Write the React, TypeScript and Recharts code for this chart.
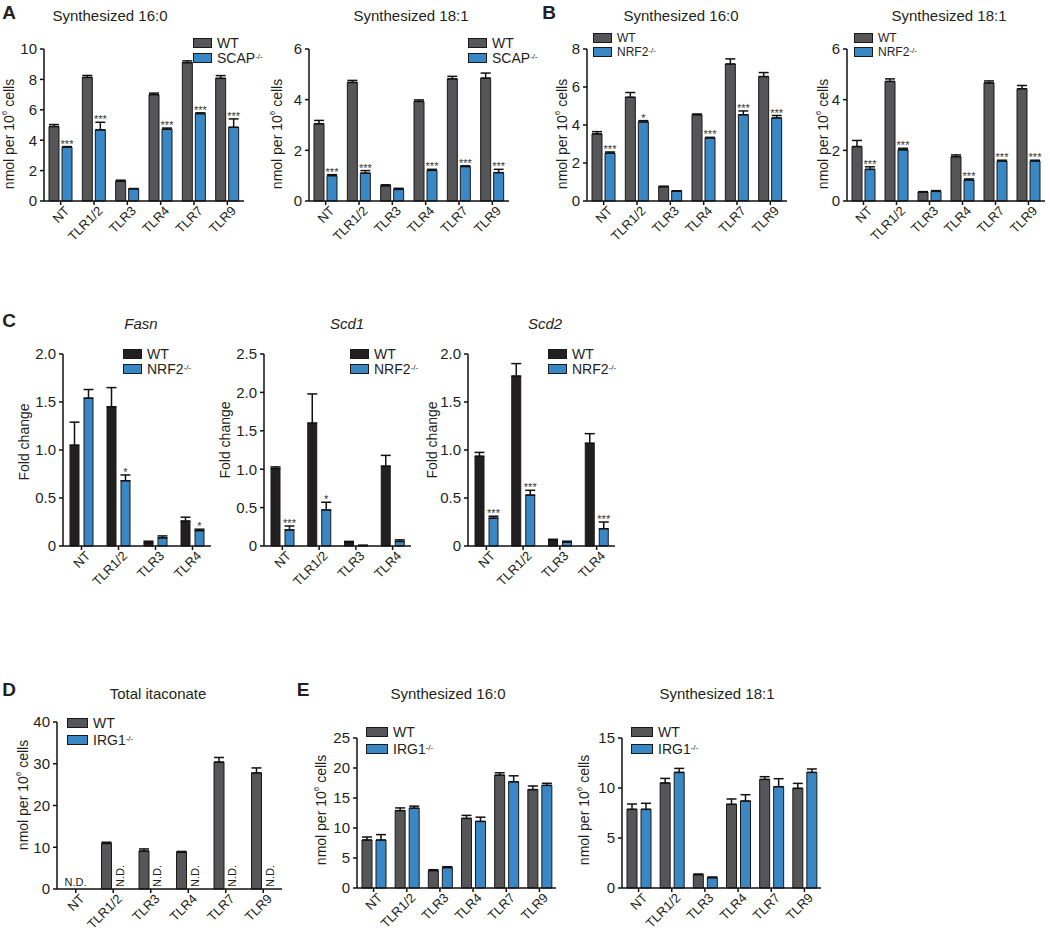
import React from "react";
import { BarChart, Bar, XAxis, YAxis, ErrorBar, LabelList } from "recharts";

const tlr6 = ["NT", "TLR1/2", "TLR3", "TLR4", "TLR7", "TLR9"];
const tlr4 = ["NT", "TLR1/2", "TLR3", "TLR4"];

// A - WT vs SCAP-/-
const a16Wt = [4.9, 8.13, 1.3, 7.0, 9.1, 8.07];
const a16WtErr = [0.13, 0.13, 0.07, 0.1, 0.12, 0.18];
const a16Scap = [3.54, 4.68, 0.8, 4.72, 5.75, 4.85];
const a16ScapErr = [0.04, 0.5, 0.02, 0.08, 0.05, 0.55];
const a16Marks = ["***", "***", "", "***", "***", "***"];

const a18Wt = [3.05, 4.68, 0.6, 3.93, 4.82, 4.85];
const a18WtErr = [0.13, 0.08, 0.04, 0.06, 0.1, 0.2];
const a18Scap = [1.0, 1.1, 0.46, 1.21, 1.36, 1.12];
const a18ScapErr = [0.04, 0.1, 0.04, 0.04, 0.03, 0.13];
const a18Marks = ["***", "***", "", "***", "***", "***"];

// B - WT vs NRF2-/-
const b16Wt = [3.53, 5.46, 0.75, 4.54, 7.21, 6.55];
const b16WtErr = [0.12, 0.25, 0.03, 0.04, 0.27, 0.21];
const b16Nrf2 = [2.52, 4.16, 0.52, 3.32, 4.54, 4.37];
const b16Nrf2Err = [0.06, 0.07, 0.02, 0.03, 0.2, 0.13];
const b16Marks = ["***", "*", "", "***", "***", "***"];

const b18Wt = [2.15, 4.72, 0.35, 1.75, 4.66, 4.43];
const b18WtErr = [0.24, 0.1, 0.02, 0.07, 0.08, 0.13];
const b18Nrf2 = [1.25, 2.02, 0.38, 0.83, 1.58, 1.58];
const b18Nrf2Err = [0.1, 0.06, 0.03, 0.04, 0.03, 0.03];
const b18Marks = ["***", "***", "", "***", "***", "***"];

// C - fold change
const fasnWt = [1.05, 1.45, 0.035, 0.26];
const fasnWtErr = [0.24, 0.2, 0.015, 0.04];
const fasnNrf2 = [1.54, 0.68, 0.085, 0.16];
const fasnNrf2Err = [0.09, 0.06, 0.02, 0.015];
const fasnMarks = ["", "*", "", "*"];

const scd1Wt = [1.01, 1.6, 0.05, 1.04];
const scd1WtErr = [0.02, 0.38, 0.01, 0.14];
const scd1Nrf2 = [0.21, 0.47, 0.008, 0.06];
const scd1Nrf2Err = [0.05, 0.1, 0, 0.02];
const scd1Marks = ["***", "*", "", ""];

const scd2Wt = [0.935, 1.77, 0.06, 1.07];
const scd2WtErr = [0.04, 0.13, 0.01, 0.1];
const scd2Nrf2 = [0.29, 0.53, 0.04, 0.18];
const scd2Nrf2Err = [0.02, 0.05, 0.01, 0.07];
const scd2Marks = ["***", "***", "", "***"];

// D - itaconate
const itaWt = [0, 10.9, 9.1, 8.8, 30.4, 27.8];
const itaWtErr = [0, 0.3, 0.5, 0.2, 1.1, 1.2];
const itaIrg1 = [0, 0, 0, 0, 0, 0];
const itaIrg1Err = [0, 0, 0, 0, 0, 0];
const itaMarks = ["N.D.", "N.D.", "N.D.", "N.D.", "N.D.", "N.D."];

// E - WT vs IRG1-/-
const e16Wt = [8.0, 12.9, 2.9, 11.6, 18.8, 16.4];
const e16WtErr = [0.5, 0.45, 0.15, 0.5, 0.4, 0.6];
const e16Irg1 = [8.0, 13.3, 3.4, 11.1, 17.7, 17.1];
const e16Irg1Err = [0.9, 0.35, 0.15, 0.7, 1.0, 0.35];

const e18Wt = [7.87, 10.5, 1.33, 8.37, 10.86, 9.97];
const e18WtErr = [0.53, 0.46, 0.07, 0.53, 0.27, 0.49];
const e18Irg1 = [7.87, 11.56, 1.03, 8.7, 10.13, 11.56];
const e18Irg1Err = [0.6, 0.4, 0.07, 0.63, 0.8, 0.34];
const noMarks = ["", "", "", "", "", ""];

const GRAY = "#565658";
const BLUE = "#3a87c6";
const BLACK = "#221f20";
const INK = "#231f20";

function rows(cats: string[], wt: number[], wtErr: number[], ko: number[], koErr: number[], marks: string[]) {
  return cats.map((c, i) => ({
    cat: c,
    wt: wt[i],
    ko: ko[i],
    wtErr: [0, wtErr[i]],
    koErr: [0, koErr[i]],
    mark: marks[i],
  }));
}

function XTick(props: any) {
  const { x, y, payload } = props;
  return (
    <text x={0} y={0} dy="0.71em" textAnchor="end" fontSize={13} fill={INK}
      transform={`translate(${x + 3},${y - 2}) rotate(-45)`}>
      {payload.value}
    </text>
  );
}

function Panel({ ax, pw, ty, by, data, yMax, ticks, dec, wtColor, barSize, barGap, nd }: any) {
  const yw = 40, mt = 12, xh = 60, mr = 4;
  const w = yw + pw + mr;
  const h = mt + (by - ty) + xh;

  const markLabel = (p: any) => {
    const { x, y, width, height, index } = p;
    const r = data[index];
    if (!r || !r.mark) return null;
    const cx = Number(x) + Number(width) / 2;
    const base = Number(y) + Number(height);
    if (nd) {
      if (index === 0) {
        return <text x={cx - Number(width) / 2 - barGap / 2} y={base - 3} textAnchor="middle" fontSize={11} fill={INK}>{r.mark}</text>;
      }
      return <text x={0} y={0} fontSize={11} fill={INK} textAnchor="start"
        transform={`translate(${cx + 4},${base - 2}) rotate(-90)`}>{r.mark}</text>;
    }
    const per = r.ko > 0 ? Number(height) / r.ko : 0;
    const top = Number(y) - r.koErr[1] * per;
    return <text x={cx} y={top + 1} textAnchor="middle" fontSize={11} fill="#333">{r.mark}</text>;
  };

  return (
    <div style={{ position: "absolute", left: ax - yw, top: ty - mt }}>
      <BarChart width={w} height={h} data={data} margin={{ top: mt, right: mr, bottom: 0, left: 0 }}
        barSize={barSize} barGap={barGap}>
        <XAxis dataKey="cat" interval={0} height={xh} tick={(p: any) => <XTick {...p} />}
          tickSize={4} axisLine={{ stroke: "#111", strokeWidth: 1.5 }} tickLine={{ stroke: "#111", strokeWidth: 1.5 }} />
        <YAxis width={yw} domain={[0, yMax]} ticks={ticks} interval={0}
          tickFormatter={(v: number) => (v === 0 ? "0" : dec ? v.toFixed(1) : String(v))}
          tick={{ fontSize: 15, fill: INK }} tickSize={4} tickMargin={3}
          axisLine={{ stroke: "#111", strokeWidth: 1.5 }} tickLine={{ stroke: "#111", strokeWidth: 1.5 }} />
        <Bar dataKey="wt" fill={wtColor} stroke="#1a1a1a" strokeWidth={1} isAnimationActive={false}>
          <ErrorBar dataKey="wtErr" width={5} stroke="#111" strokeWidth={1.5} direction="y" />
        </Bar>
        <Bar dataKey="ko" fill={nd ? "none" : BLUE} stroke={nd ? "none" : "#1a1a1a"} strokeWidth={1}
          minPointSize={nd ? 1 : 0} isAnimationActive={false}>
          {!nd && <ErrorBar dataKey="koErr" width={5} stroke="#111" strokeWidth={1.5} direction="y" />}
          <LabelList dataKey="mark" content={markLabel} />
        </Bar>
      </BarChart>
    </div>
  );
}

function Title({ x, y, children, italic }: any) {
  return (
    <div style={{ position: "absolute", left: x, top: y, transform: "translate(-50%,-50%)", fontSize: 15,
      lineHeight: 1, whiteSpace: "nowrap", fontStyle: italic ? "italic" : "normal" }}>{children}</div>
  );
}

function Letter({ x, y, children }: any) {
  return (
    <div style={{ position: "absolute", left: x, top: y, transform: "translate(-50%,-50%)", fontSize: 19,
      fontWeight: "bold", lineHeight: 1 }}>{children}</div>
  );
}

function YTitle({ x, y, children }: any) {
  return (
    <div style={{ position: "absolute", left: x, top: y, transform: "translate(-50%,-50%) rotate(-90deg)",
      fontSize: 14, lineHeight: 1, whiteSpace: "nowrap" }}>{children}</div>
  );
}

const Sup = ({ children }: any) => <sup style={{ fontSize: 8, verticalAlign: "top", position: "relative", top: -1 }}>{children}</sup>;
const nmol = <span>nmol per 10<Sup>6</Sup> cells</span>;

function Legend({ x, y, sp, wtColor, ko, sw = 17, fs = 14 }: any) {
  const item = (color: string, label: any, cy: number) => (
    <div style={{ position: "absolute", left: x, top: cy, transform: "translateY(-50%)", display: "flex",
      alignItems: "center", whiteSpace: "nowrap", fontSize: fs, lineHeight: `${Math.min(sp, fs)}px` }}>
      <div style={{ width: sw, height: 8, background: color, border: "1px solid #1a1a1a", marginRight: 5 }} />
      <span>{label}</span>
    </div>
  );
  return (
    <>
      {item(wtColor, "WT", y)}
      {item(BLUE, <span>{ko}<Sup>-/-</Sup></span>, y + sp)}
    </>
  );
}

export default function App() {
  return (
    <div style={{ position: "absolute", left: 0, top: 0, width: 1050, height: 931, background: "#fff",
      fontFamily: "'Liberation Sans', Arial, Helvetica, sans-serif", color: INK }}>
      <Letter x={9} y={11.5}>A</Letter>
      <Letter x={549} y={11.5}>B</Letter>
      <Letter x={9} y={320}>C</Letter>
      <Letter x={9} y={688.5}>D</Letter>
      <Letter x={303} y={688.5}>E</Letter>

      <Title x={110} y={15}>Synthesized 16:0</Title>
      <Title x={411} y={15}>Synthesized 18:1</Title>
      <Title x={681} y={15}>Synthesized 16:0</Title>
      <Title x={949} y={15}>Synthesized 18:1</Title>
      <Title x={141} y={323} italic>Fasn</Title>
      <Title x={347} y={323} italic>Scd1</Title>
      <Title x={545} y={323} italic>Scd2</Title>
      <Title x={158} y={693}>Total itaconate</Title>
      <Title x={448} y={693}>Synthesized 16:0</Title>
      <Title x={717} y={693}>Synthesized 18:1</Title>

      <YTitle x={9} y={134}>{nmol}</YTitle>
      <YTitle x={277} y={134}>{nmol}</YTitle>
      <YTitle x={562} y={134}>{nmol}</YTitle>
      <YTitle x={823} y={134}>{nmol}</YTitle>
      <YTitle x={24} y={442}>Fold change</YTitle>
      <YTitle x={225} y={440}>Fold change</YTitle>
      <YTitle x={432} y={440}>Fold change</YTitle>
      <YTitle x={23} y={795}>{nmol}</YTitle>
      <YTitle x={321} y={810}>{nmol}</YTitle>
      <YTitle x={584} y={810}>{nmol}</YTitle>

      <Panel ax={44} pw={200} ty={49} by={201} yMax={10} ticks={[0, 2, 4, 6, 8, 10]} wtColor={GRAY} barSize={10} barGap={3}
        data={rows(tlr6, a16Wt, a16WtErr, a16Scap, a16ScapErr, a16Marks)} />
      <Panel ax={309} pw={200} ty={49} by={201} yMax={6} ticks={[0, 2, 4, 6]} wtColor={GRAY} barSize={10} barGap={3}
        data={rows(tlr6, a18Wt, a18WtErr, a18Scap, a18ScapErr, a18Marks)} />
      <Panel ax={587} pw={200} ty={49} by={201} yMax={8} ticks={[0, 2, 4, 6, 8]} wtColor={GRAY} barSize={10} barGap={3}
        data={rows(tlr6, b16Wt, b16WtErr, b16Nrf2, b16Nrf2Err, b16Marks)} />
      <Panel ax={847} pw={198} ty={49} by={201} yMax={6} ticks={[0, 2, 4, 6]} wtColor={GRAY} barSize={10} barGap={3}
        data={rows(tlr6, b18Wt, b18WtErr, b18Nrf2, b18Nrf2Err, b18Marks)} />

      <Panel ax={63} pw={148} ty={354} by={546} yMax={2} ticks={[0, 0.5, 1, 1.5, 2]} dec wtColor={BLACK} barSize={9} barGap={5}
        data={rows(tlr4, fasnWt, fasnWtErr, fasnNrf2, fasnNrf2Err, fasnMarks)} />
      <Panel ax={264} pw={147} ty={354} by={546} yMax={2.5} ticks={[0, 0.5, 1, 1.5, 2, 2.5]} dec wtColor={BLACK} barSize={9} barGap={5}
        data={rows(tlr4, scd1Wt, scd1WtErr, scd1Nrf2, scd1Nrf2Err, scd1Marks)} />
      <Panel ax={468} pw={147} ty={354} by={546} yMax={2} ticks={[0, 0.5, 1, 1.5, 2]} dec wtColor={BLACK} barSize={9} barGap={5}
        data={rows(tlr4, scd2Wt, scd2WtErr, scd2Nrf2, scd2Nrf2Err, scd2Marks)} />

      <Panel ax={57} pw={225} ty={722} by={889} yMax={40} ticks={[0, 10, 20, 30, 40]} wtColor={GRAY} barSize={10} barGap={3} nd
        data={rows(tlr6, itaWt, itaWtErr, itaIrg1, itaIrg1Err, itaMarks)} />
      <Panel ax={357} pw={199} ty={738} by={888} yMax={25} ticks={[0, 5, 10, 15, 20, 25]} wtColor={GRAY} barSize={10} barGap={4}
        data={rows(tlr6, e16Wt, e16WtErr, e16Irg1, e16Irg1Err, noMarks)} />
      <Panel ax={622} pw={199} ty={738} by={888} yMax={15} ticks={[0, 5, 10, 15]} wtColor={GRAY} barSize={10} barGap={4}
        data={rows(tlr6, e18Wt, e18WtErr, e18Irg1, e18Irg1Err, noMarks)} />

      <Legend x={193} y={42.5} sp={15} wtColor={GRAY} ko="SCAP" />
      <Legend x={468} y={42.5} sp={15} wtColor={GRAY} ko="SCAP" />
      <Legend x={593} y={38} sp={14} fs={12} wtColor={GRAY} ko="NRF2" />
      <Legend x={854} y={38} sp={14} fs={12} wtColor={GRAY} ko="NRF2" />
      <Legend x={123} y={354} sp={15} wtColor={BLACK} ko="NRF2" />
      <Legend x={350} y={354} sp={15} wtColor={BLACK} ko="NRF2" />
      <Legend x={548} y={354} sp={15} wtColor={BLACK} ko="NRF2" />
      <Legend x={67} y={723} sp={17} wtColor={GRAY} ko="IRG1" sw={19} />
      <Legend x={366} y={732} sp={17} wtColor={GRAY} ko="IRG1" sw={20} />
      <Legend x={631} y={732} sp={17} wtColor={GRAY} ko="IRG1" sw={20} />
    </div>
  );
}
